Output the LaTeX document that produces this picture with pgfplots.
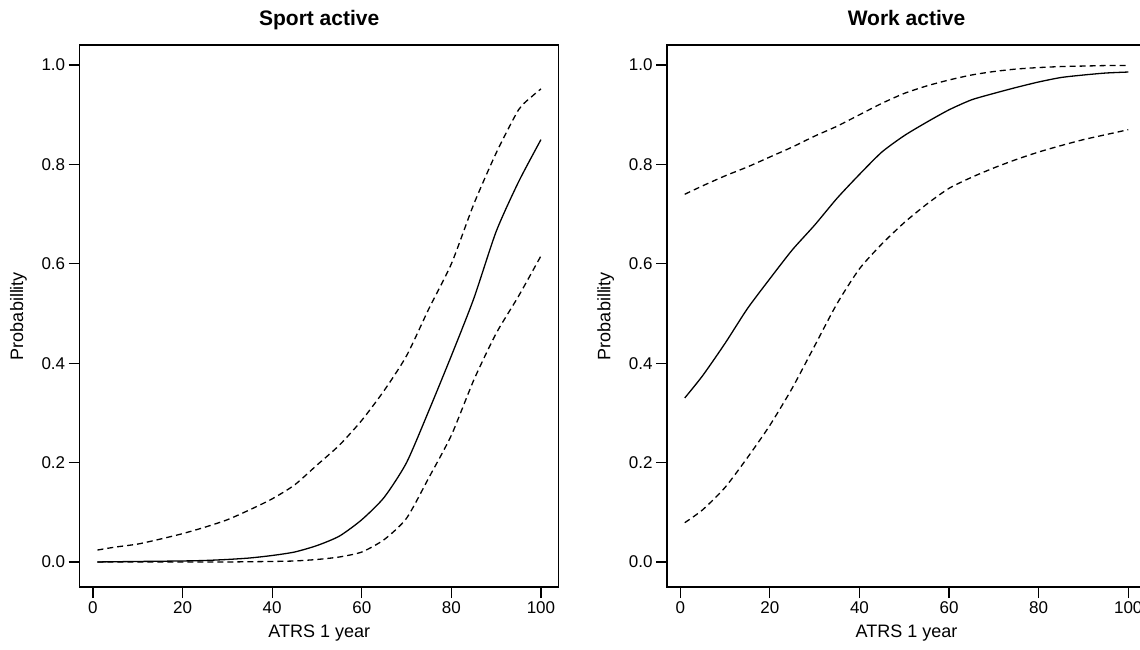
\documentclass[border=0pt]{standalone}
\usepackage{fontspec}
\setmainfont{Liberation Sans}
\usepackage{pgfplots}
\pgfplotsset{compat=1.18}

\pgfplotsset{
  rpanel/.style={
    scale only axis, width=479pt, height=542pt,
    xmin=-2.96, xmax=103.96, ymin=-0.0504, ymax=1.0404,
    xtick={0,20,40,60,80,100}, ytick={0,0.2,0.4,0.6,0.8,1.0},
    xtick pos=bottom, ytick pos=left, tick align=outside,
    major tick length=11pt,
    every tick/.style={black, line width=1.2pt},
    axis line style={line width=1.3pt},
    /pgf/number format/assume math mode=true,
    tick label style={font=\fontsize{17}{20}\selectfont},
    yticklabel style={/pgf/number format/.cd, fixed, fixed zerofill, precision=1},
    xlabel={ATRS 1 year}, ylabel={Probabillity},
    label style={font=\fontsize{18}{21}\selectfont},
    xlabel style={at={(axis description cs:0.5,-0.085)}, anchor=center},
    ylabel style={at={(axis description cs:-0.128,0.5)}, anchor=center},
    title style={font=\bfseries\fontsize{21}{24}\selectfont, at={(axis description cs:0.5,1)}, anchor=base, yshift=13pt},
  },
  est/.style={black, line width=1.3pt, smooth, tension=0.4},
  ci/.style={black, line width=1.3pt, dash pattern=on 6pt off 4pt, smooth, tension=0.4},
}

\begin{document}
\begin{tikzpicture}
\begin{axis}[rpanel, at={(79.7pt,62pt)}, anchor=south west, title={Sport active}]
% lower CI
\addplot[ci] coordinates {(1,0.000)(10,0.000)(20,0.000)(30,0.000)(40,0.001)(45,0.002)(50,0.005)(55,0.010)(60,0.020)(65,0.045)(70,0.088)(75,0.170)(80,0.255)(85,0.366)(90,0.460)(95,0.535)(100,0.616)};
% upper CI
\addplot[ci] coordinates {(1,0.024)(5,0.030)(10,0.036)(15,0.046)(20,0.057)(25,0.070)(30,0.085)(35,0.105)(40,0.127)(45,0.155)(50,0.195)(55,0.235)(60,0.285)(65,0.345)(70,0.415)(75,0.510)(80,0.600)(85,0.720)(90,0.823)(95,0.910)(98,0.937)(100,0.952)};
% estimate
\addplot[est] coordinates {(1,0.000)(10,0.001)(20,0.002)(25,0.003)(30,0.005)(35,0.008)(40,0.013)(45,0.020)(50,0.033)(55,0.052)(60,0.085)(65,0.130)(70,0.200)(75,0.305)(80,0.415)(85,0.530)(90,0.665)(95,0.765)(100,0.850)};
\end{axis}

\begin{axis}[rpanel, at={(667pt,62pt)}, anchor=south west, title={Work active}]
% lower CI
\addplot[ci] coordinates {(1,0.079)(5,0.105)(10,0.150)(15,0.210)(20,0.275)(25,0.350)(30,0.435)(35,0.520)(40,0.590)(45,0.640)(50,0.683)(55,0.720)(60,0.752)(65,0.774)(70,0.793)(75,0.810)(80,0.825)(85,0.838)(90,0.850)(95,0.860)(100,0.870)};
% upper CI
\addplot[ci] coordinates {(1,0.740)(5,0.757)(10,0.777)(15,0.795)(20,0.815)(25,0.835)(30,0.857)(35,0.877)(40,0.900)(45,0.923)(50,0.943)(55,0.958)(60,0.970)(65,0.980)(70,0.987)(75,0.992)(80,0.995)(85,0.997)(90,0.998)(95,0.999)(100,0.999)};
% estimate
\addplot[est] coordinates {(1,0.330)(5,0.375)(10,0.440)(15,0.510)(20,0.570)(25,0.628)(30,0.678)(35,0.732)(40,0.780)(45,0.825)(50,0.858)(55,0.885)(60,0.910)(65,0.930)(70,0.943)(75,0.955)(80,0.966)(85,0.975)(90,0.980)(95,0.984)(100,0.986)};
\end{axis}
\pgfresetboundingbox
\path[use as bounding box] (0pt,0pt) rectangle (1140pt,649pt);
\end{tikzpicture}
\end{document}
